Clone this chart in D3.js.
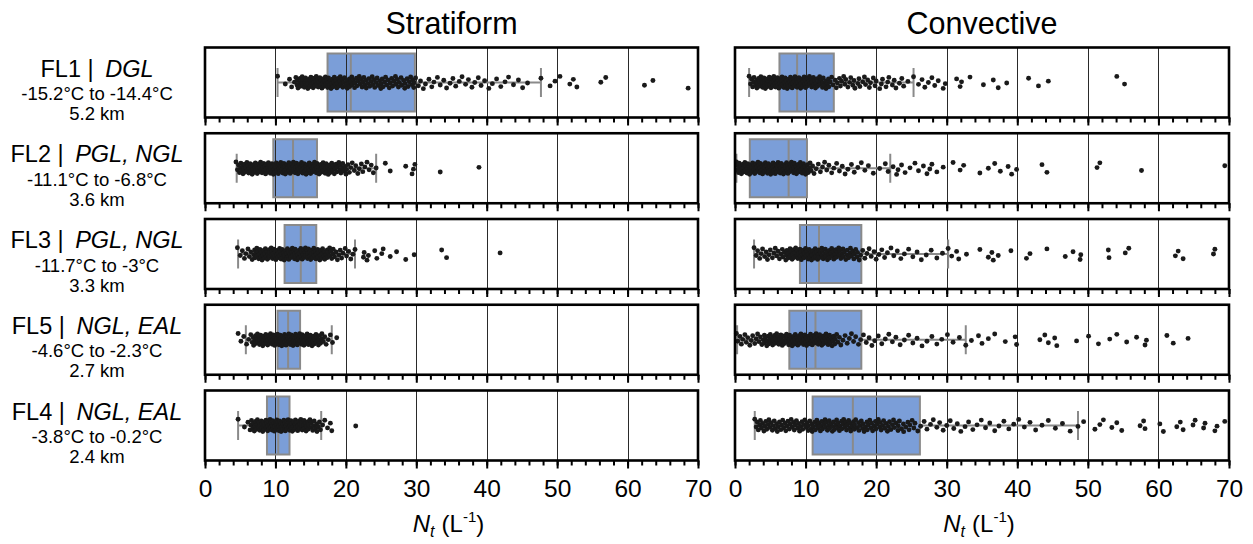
<!DOCTYPE html>
<html>
<head>
<meta charset="utf-8">
<script src="https://cdn.jsdelivr.net/npm/d3@7"></script>
<style>
  body { margin: 0; background: #fff; }
  svg { display: block; }
  text { font-family: "Liberation Sans", Arial, Helvetica, sans-serif; fill: #000; }
</style>
</head>
<body>
<svg id="chart" width="1253" height="544"></svg>
<script>
// ---- labels ----
const regimes = ["Stratiform", "Convective"];
const levels = ["FL1", "FL2", "FL3", "FL5", "FL4"];
const growthLayers = ["DGL", "PGL, NGL", "PGL, NGL", "NGL, EAL", "NGL, EAL"];
const tempRanges = ["-15.2°C to -14.4°C", "-11.1°C to -6.8°C", "-11.7°C to -3°C", "-4.6°C to -2.3°C", "-3.8°C to -0.2°C"];
const altitudes = ["5.2 km", "3.6 km", "3.3 km", "2.7 km", "2.4 km"];
const majorTicks = [0, 10, 20, 30, 40, 50, 60, 70];
const minorTicks = [0,2,4,6,8,10,12,14,16,18,20,22,24,26,28,30,32,34,36,38,40,42,44,46,48,50,52,54,56,58,60,62,64,66,68,70];

// ---- box statistics: [lower whisker, Q1, median, Q3, upper whisker] ----
const stratBoxes = [
  [10.3, 17.4, 20.7, 29.8, 47.7],
  [4.5, 9.7, 12.5, 15.9, 24.3],
  [4.7, 11.3, 13.6, 15.8, 21.3],
  [5.8, 10.3, 11.8, 13.5, 18.0],
  [4.7, 8.8, 10.4, 12.0, 16.5]
];
const convBoxes = [
  [2.0, 6.3, 8.8, 14.0, 25.3],
  [0.2, 2.1, 7.6, 10.2, 22.0],
  [2.7, 9.2, 11.9, 17.9, 30.2],
  [0.3, 7.7, 11.4, 17.9, 32.7],
  [2.8, 11.0, 16.7, 26.2, 48.6]
];

// ---- individual Nt samples (L^-1) ----
const stratFL1 = [10.3,11.4,12.0,12.3,12.7,12.9,13.1,13.2,13.4,13.5,13.7,13.8,13.9,14.1,14.2,14.4,14.5,14.6,14.8,14.9,15.0,15.1,15.3,15.4,15.5,15.7,15.8,15.9,16.0,16.2,16.3,16.5,16.6,16.7,16.9,17.0,17.1,17.3,17.4,17.5,17.7,17.8,17.9,18.1,18.2,18.3,18.5,18.6,18.8,18.9,19.0,19.2,19.3,19.5,19.7,19.8,20.0,20.2,20.4,20.5,20.7,20.9,21.1,21.3,21.5,21.6,21.9,22.1,22.3,22.4,22.7,22.9,23.1,23.4,23.6,23.8,24.1,24.3,24.6,24.8,25.0,25.3,25.5,25.8,26.0,26.3,26.5,26.8,27.1,27.3,27.6,27.9,28.2,28.4,28.7,29.0,29.2,29.5,29.7,29.9,30.3,30.6,31.0,31.3,31.8,32.2,32.5,33.0,33.4,33.9,34.3,34.8,35.2,35.6,36.1,36.5,37.0,37.4,37.9,38.3,38.8,39.2,39.7,40.3,40.8,41.4,42.0,42.6,43.1,43.8,44.5,45.1,45.8,47.7,49.0,49.7,50.4,51.8,52.3,52.8,56.2,56.9,62.4,63.6,68.6,
  13.06,13.57,13.84,14.27,14.63,15.04,15.36,15.62,16.07,16.44,16.83,17.16,17.54,17.97,18.36,18.72,19.14,19.56,
  20.14,20.56,20.84,21.24,21.76,22.04,22.56,22.84,23.26,23.74,24.06,24.44,24.96,25.16,25.64,26.16,26.64,27.04,27.46,27.84,28.36,28.84,29.36,29.64];
const stratFL2 = [4.4,4.6,4.9,5.1,5.2,5.4,5.5,5.7,5.8,6.0,6.1,6.2,6.4,6.5,6.7,6.8,6.9,7.1,7.2,7.3,7.5,7.6,7.7,7.9,8.0,8.1,8.2,8.4,8.5,8.6,8.7,8.9,9.0,9.1,9.2,9.3,9.5,9.6,9.7,9.8,9.9,10.0,10.2,10.3,10.4,10.5,10.6,10.7,10.9,11.0,11.1,11.2,11.3,11.4,11.6,11.7,11.8,11.9,12.0,12.1,12.3,12.4,12.5,12.6,12.7,12.8,13.0,13.1,13.2,13.3,13.4,13.6,13.7,13.8,13.9,14.0,14.2,14.3,14.4,14.5,14.7,14.8,14.9,15.0,15.2,15.3,15.4,15.6,15.7,15.8,15.9,16.1,16.2,16.4,16.5,16.6,16.8,16.9,17.1,17.2,17.4,17.5,17.7,17.8,18.0,18.1,18.3,18.5,18.6,18.8,19.0,19.2,19.3,19.5,19.7,19.9,20.1,20.3,20.5,20.7,20.9,21.2,21.4,21.7,21.9,22.2,22.4,22.7,23.0,23.3,23.6,23.9,24.3,25.6,26.3,28.5,29.4,29.6,29.8,33.4,38.9,
  4.75,5.05,5.35,5.62,5.95,6.27,6.55,6.83,7.15,7.42,7.78,8.06,8.33,8.62,8.95,9.27,9.55,9.84,10.13,10.47,10.76,11.05,11.34,11.67,11.95,12.24,12.55,12.87,13.15,13.46,13.74,14.06,14.35,14.66,14.95,15.26,15.55,15.87,16.14,16.46,16.77,17.06,17.36,17.66,17.96,18.36,18.72,19.14,19.56,20.02];
const stratFL3 = [4.6,5.0,5.3,5.6,5.8,6.1,6.3,6.5,6.7,6.9,7.1,7.2,7.4,7.5,7.7,7.8,8.0,8.1,8.3,8.4,8.5,8.7,8.8,9.0,9.1,9.2,9.4,9.5,9.6,9.8,9.9,10.0,10.2,10.3,10.4,10.6,10.7,10.8,10.9,11.1,11.2,11.3,11.4,11.6,11.7,11.8,11.9,12.1,12.2,12.3,12.4,12.6,12.7,12.8,12.9,13.1,13.2,13.3,13.4,13.6,13.7,13.8,14.0,14.1,14.2,14.3,14.5,14.6,14.7,14.9,15.0,15.1,15.3,15.4,15.5,15.7,15.8,16.0,16.1,16.3,16.4,16.6,16.7,16.9,17.0,17.2,17.4,17.5,17.7,17.9,18.0,18.2,18.4,18.6,18.8,19.0,19.2,19.4,19.6,19.9,20.1,20.4,20.7,21.0,21.3,22.5,22.6,23.0,23.2,24.1,24.4,25.1,25.3,26.3,27.2,28.5,29.7,33.6,34.3,41.9,
  7.04,7.36,7.63,7.96,8.24,8.57,8.86,9.14,9.47,9.73,10.06,10.34,10.65,10.96,11.24,11.57,11.84,12.16,12.45,12.74,13.06,13.35,13.66,13.94,14.26,14.55,14.84,15.16,15.45,15.76,16.04,16.36,16.65,16.94,17.36,17.74,18.16];
const stratFL5 = [4.7,5.1,5.5,5.9,6.2,6.5,6.7,6.9,7.1,7.2,7.4,7.5,7.7,7.8,7.9,8.1,8.2,8.3,8.4,8.6,8.7,8.8,8.9,9.0,9.2,9.3,9.4,9.5,9.6,9.7,9.8,9.9,10.0,10.1,10.2,10.3,10.4,10.5,10.6,10.7,10.8,10.9,11.0,11.1,11.2,11.3,11.4,11.5,11.6,11.7,11.8,11.9,12.0,12.1,12.2,12.3,12.4,12.5,12.6,12.7,12.8,12.9,13.0,13.1,13.2,13.3,13.4,13.5,13.6,13.7,13.8,13.9,14.0,14.1,14.2,14.4,14.5,14.6,14.7,14.8,15.0,15.1,15.2,15.4,15.5,15.6,15.8,15.9,16.1,16.2,16.4,16.6,16.8,17.0,17.2,17.5,17.8,18.1,18.7,
  6.84,7.16,7.45,7.73,8.05,8.36,8.63,8.94,9.26,9.55,9.84,10.16,10.45,10.74,11.06,11.35,11.64,11.96,12.25,12.54,12.86,13.15,13.44,13.76,14.05,14.34,14.66,14.95,15.34,15.76,16.14,16.55];
const stratFL4 = [4.7,5.6,6.1,6.4,6.6,6.8,7.0,7.1,7.3,7.4,7.6,7.7,7.8,8.0,8.1,8.2,8.3,8.4,8.5,8.7,8.8,8.9,9.0,9.1,9.2,9.3,9.4,9.5,9.6,9.7,9.8,9.9,10.0,10.1,10.2,10.3,10.4,10.5,10.6,10.7,10.8,10.9,11.0,11.1,11.2,11.3,11.4,11.5,11.6,11.7,11.8,11.9,12.0,12.1,12.2,12.3,12.4,12.5,12.7,12.8,12.9,13.0,13.2,13.3,13.4,13.6,13.7,13.8,14.0,14.1,14.3,14.4,14.6,14.7,14.9,15.1,15.3,15.5,15.7,15.9,16.1,16.4,16.7,17.0,17.4,17.8,18.0,21.4,
  6.54,6.86,7.15,7.44,7.76,8.05,8.34,8.66,8.95,9.24,9.56,9.85,10.14,10.46,10.75,11.04,11.36,11.65,11.94,12.26,12.55,12.84,13.16,13.45,13.74,14.06,14.35,14.64,15.06,15.44,15.86,16.24];
const convFL1 = [2.0,2.2,2.5,2.7,2.9,3.1,3.2,3.4,3.5,3.7,3.8,3.9,4.1,4.2,4.3,4.5,4.6,4.7,4.9,5.0,5.1,5.2,5.4,5.5,5.6,5.7,5.9,6.0,6.1,6.2,6.4,6.5,6.6,6.7,6.9,7.0,7.1,7.2,7.4,7.5,7.6,7.8,7.9,8.0,8.1,8.3,8.4,8.5,8.7,8.8,8.9,9.1,9.2,9.3,9.5,9.6,9.8,9.9,10.0,10.2,10.3,10.5,10.6,10.8,10.9,11.1,11.2,11.4,11.5,11.7,11.9,12.0,12.2,12.4,12.5,12.7,12.9,13.1,13.3,13.5,13.7,13.9,14.2,14.5,14.8,15.1,15.4,15.7,16.0,16.4,16.7,17.0,17.4,17.7,18.1,18.5,18.8,19.2,19.6,20.0,20.5,20.9,21.4,21.8,22.3,22.8,23.3,23.9,24.5,25.3,26.0,26.5,26.9,27.4,27.9,28.3,28.8,29.5,29.8,31.4,31.9,32.1,33.3,35.2,36.6,37.3,38.5,41.6,43.0,44.4,54.1,55.2,
  2.36,2.64,3.06,3.34,3.66,3.94,4.26,4.54,4.86,5.14,5.46,5.74,6.06,6.34,6.66,6.94,7.26,7.54,7.86,8.14,8.46,8.74,9.06,9.34,9.66,9.94,10.26,10.54,10.86,11.26,11.64,12.06,12.44,12.86,13.24,
  14.36,14.94,15.56,16.24,16.86,17.56,18.34,19.04,19.84,20.74,21.64,22.56,23.64];
const convFL2 = [0.2,0.3,0.5,0.6,0.8,0.9,1.0,1.2,1.3,1.4,1.5,1.7,1.8,1.9,2.0,2.2,2.3,2.4,2.5,2.7,2.8,2.9,3.0,3.1,3.3,3.4,3.5,3.6,3.7,3.9,4.0,4.1,4.2,4.3,4.5,4.6,4.7,4.8,4.9,5.1,5.2,5.3,5.4,5.5,5.7,5.8,5.9,6.0,6.1,6.3,6.4,6.5,6.6,6.8,6.9,7.0,7.1,7.3,7.4,7.5,7.6,7.8,7.9,8.0,8.2,8.3,8.4,8.6,8.7,8.8,9.0,9.1,9.3,9.4,9.6,9.7,9.9,10.0,10.2,10.4,10.6,10.8,11.0,11.2,11.5,11.8,12.1,12.4,12.7,13.0,13.3,13.7,14.0,14.4,14.8,15.2,15.6,16.0,16.5,16.9,17.4,17.9,18.4,18.9,19.6,20.5,21.3,21.7,22.4,22.9,23.1,23.6,24.1,24.8,25.5,26.0,26.7,27.2,27.6,27.9,28.6,29.5,30.9,31.9,32.4,34.7,35.9,36.8,37.6,38.7,39.2,39.9,43.5,44.2,51.3,51.7,57.6,69.4,
  0.26,0.54,0.86,1.14,1.46,1.74,2.06,2.34,2.66,2.94,3.26,3.54,3.86,4.14,4.46,4.74,5.06,5.34,5.66,5.94,6.26,6.54,6.86,7.14,7.46,7.74,8.06,8.34,8.66,8.94,9.26,9.54,9.86,10.26,10.64];
const convFL3 = [2.7,3.0,3.2,3.5,3.7,3.9,4.2,4.4,4.6,4.8,5.0,5.3,5.5,5.7,5.9,6.1,6.3,6.5,6.7,6.8,7.0,7.2,7.3,7.5,7.6,7.8,7.9,8.1,8.2,8.3,8.5,8.6,8.8,8.9,9.0,9.2,9.3,9.4,9.6,9.7,9.8,10.0,10.1,10.2,10.4,10.5,10.6,10.8,10.9,11.0,11.2,11.3,11.4,11.6,11.7,11.8,12.0,12.1,12.3,12.4,12.5,12.7,12.8,13.0,13.1,13.3,13.4,13.6,13.7,13.9,14.0,14.2,14.3,14.5,14.7,14.8,15.0,15.2,15.3,15.5,15.7,15.9,16.1,16.3,16.5,16.7,16.9,17.1,17.3,17.6,17.8,18.1,18.4,18.7,19.0,19.3,19.7,20.0,20.4,20.8,21.2,21.6,22.1,22.5,23.0,23.5,24.0,24.6,25.2,25.8,26.4,27.1,27.8,28.6,29.4,30.2,30.7,31.4,31.7,32.8,34.7,35.9,36.4,36.6,37.3,39.1,41.3,41.8,44.2,46.8,47.9,48.9,49.0,52.9,53.0,55.3,55.8,62.4,62.8,63.5,67.8,68.0,
  7.36,7.84,8.36,8.84,9.36,9.84,10.36,10.84,11.36,11.84,12.36,12.84,13.36,13.84,14.36,14.84,15.36,15.84,16.36,16.84,17.36];
const convFL5 = [0.2,0.4,0.7,0.9,1.1,1.4,1.6,1.8,2.1,2.3,2.5,2.8,3.0,3.2,3.4,3.6,3.8,4.0,4.2,4.3,4.5,4.7,4.8,5.0,5.1,5.3,5.4,5.6,5.7,5.9,6.0,6.2,6.3,6.5,6.6,6.7,6.9,7.0,7.2,7.3,7.4,7.6,7.7,7.9,8.0,8.1,8.3,8.4,8.5,8.7,8.8,8.9,9.1,9.2,9.3,9.5,9.6,9.7,9.9,10.0,10.1,10.3,10.4,10.5,10.7,10.8,10.9,11.1,11.2,11.3,11.5,11.6,11.8,11.9,12.0,12.2,12.3,12.5,12.6,12.8,12.9,13.1,13.2,13.4,13.5,13.7,13.9,14.0,14.2,14.4,14.6,14.8,15.0,15.3,15.6,15.9,16.2,16.5,16.8,17.1,17.5,17.8,18.2,18.6,19.0,19.4,19.8,20.3,20.8,21.3,21.8,22.3,22.8,23.4,24.0,24.6,25.2,25.8,26.5,27.2,27.9,28.6,29.3,30.1,30.9,31.8,32.7,33.5,34.5,35.0,35.9,36.8,38.3,39.7,39.9,43.2,43.9,44.4,45.3,45.6,48.4,50.1,51.5,53.1,54.1,55.5,56.9,58.1,58.3,61.2,62.1,64.2,
  4.16,4.54,4.96,5.34,5.76,6.14,6.56,6.94,7.36,7.74,8.16,8.54,8.96,9.34,9.76,10.14,10.56,10.94,11.36,11.74,12.16,12.54,12.96,13.34,13.76,14.14];
const convFL4 = [2.8,3.0,3.3,3.5,3.6,3.9,4.1,4.2,4.5,4.7,4.8,5.1,5.3,5.4,5.7,5.9,6.0,6.3,6.5,6.6,6.9,7.1,7.2,7.5,7.7,7.8,8.1,8.3,8.4,8.7,8.9,9.0,9.3,9.5,9.6,9.9,10.1,10.2,10.4,10.6,10.8,10.9,11.1,11.3,11.4,11.6,11.8,11.9,12.1,12.3,12.4,12.6,12.8,12.9,13.1,13.3,13.4,13.6,13.8,13.9,14.1,14.3,14.4,14.6,14.8,14.9,15.1,15.3,15.4,15.6,15.8,15.9,16.1,16.3,16.4,16.6,16.8,16.9,17.1,17.3,17.5,17.7,17.9,18.1,18.3,18.5,18.7,18.9,19.1,19.3,19.5,19.7,19.9,20.1,20.3,20.5,20.7,20.9,21.2,21.4,21.6,21.9,22.1,22.3,22.6,22.8,23.1,23.3,23.6,23.9,24.2,24.5,24.8,25.1,25.5,25.9,26.3,26.8,27.2,27.7,28.1,28.6,29.0,29.5,30.0,30.5,31.0,31.5,32.0,32.6,33.1,33.7,34.3,34.9,35.5,36.1,36.8,37.4,38.1,38.8,39.5,40.2,41.0,41.8,42.6,43.5,44.4,45.4,46.4,47.5,48.6,49.4,51.0,51.7,52.2,53.4,54.1,54.8,57.4,57.9,58.1,60.2,60.7,62.6,63.1,63.5,64.9,65.2,66.4,66.6,68.0,68.3,69.4,
  3.16,3.74,4.36,4.94,5.56,6.14,6.76,7.34,7.96,8.54,9.16,9.74,10.36,10.94,11.56,12.14,12.76,13.34,13.96,14.54,15.16,15.74,16.36,16.94,17.56,18.14,18.76,19.34,19.96,20.54,21.06,21.74,22.46,23.14,23.86,24.66,25.34];

const stratPoints = [stratFL1, stratFL2, stratFL3, stratFL5, stratFL4];
const convPoints = [convFL1, convFL2, convFL3, convFL5, convFL4];

// ---- layout ----
const svg = d3.select("#chart");
const colLeft = [205, 735];
const colRight = [698, 1229];
const rowTop0 = 47.5, rowStep = 85.75, rowH = 70;
const boxHalf = 29, capHalf = 14.5, jitterAmp = 6.2, dotR = 2.45;
const boxFill = "#7b9ed8", boxStroke = "#8a8a8a";

const panels = [
  { title: regimes[0], boxes: stratBoxes, points: stratPoints },
  { title: regimes[1], boxes: convBoxes, points: convPoints }
];

panels.forEach((p, c) => {
  const x = d3.scaleLinear().domain([0, 70]).range([colLeft[c], colRight[c]]);
  const midX = (colLeft[c] + colRight[c]) / 2;

  svg.append("text")
    .attr("x", midX).attr("y", 34)
    .attr("text-anchor", "middle")
    .style("font-size", "30.5px")
    .text(p.title);

  levels.forEach((lv, r) => {
    const top = rowTop0 + r * rowStep;
    const cy = top + rowH / 2;
    const g = svg.append("g");
    const [lo, q1, med, q3, hi] = p.boxes[r];

    // panel background
    g.append("rect").attr("x", x(0)).attr("y", top)
      .attr("width", x(70) - x(0)).attr("height", rowH).attr("fill", "#fff");

    // box fill
    g.append("rect")
      .attr("x", x(q1)).attr("y", cy - boxHalf)
      .attr("width", x(q3) - x(q1)).attr("height", 2 * boxHalf)
      .attr("fill", boxFill);

    // vertical gridlines
    g.selectAll("line.grid").data(majorTicks.slice(1, -1)).join("line")
      .attr("class", "grid")
      .attr("x1", d => Math.round(x(d)) + 0.5).attr("x2", d => Math.round(x(d)) + 0.5)
      .attr("y1", top).attr("y2", top + rowH)
      .attr("stroke", "#2a2a2a").attr("stroke-width", 1);

    // whiskers and caps
    const wk = g.append("g").attr("stroke", boxStroke).attr("stroke-width", 2).attr("fill", "none");
    wk.append("line").attr("x1", x(lo)).attr("x2", x(q1)).attr("y1", cy).attr("y2", cy);
    wk.append("line").attr("x1", x(q3)).attr("x2", x(hi)).attr("y1", cy).attr("y2", cy);
    wk.append("line").attr("x1", x(lo)).attr("x2", x(lo)).attr("y1", cy - capHalf).attr("y2", cy + capHalf);
    wk.append("line").attr("x1", x(hi)).attr("x2", x(hi)).attr("y1", cy - capHalf).attr("y2", cy + capHalf);
    wk.append("rect").attr("x", x(q1)).attr("y", cy - boxHalf)
      .attr("width", x(q3) - x(q1)).attr("height", 2 * boxHalf);
    wk.append("line").attr("x1", x(med)).attr("x2", x(med))
      .attr("y1", cy - boxHalf).attr("y2", cy + boxHalf);

    // jittered samples, sorted, spread vertically by sample order
    const samples = d3.sort(p.points[r]);
    g.selectAll("circle").data(samples).join("circle")
      .attr("cx", d => x(d))
      .attr("cy", (d, i) => cy + (((i * 0.6180339887) % 1) * 2 - 1) * jitterAmp)
      .attr("r", dotR)
      .attr("fill", "#1a1a1a");

    // frame
    g.append("rect").attr("x", x(0)).attr("y", top)
      .attr("width", x(70) - x(0)).attr("height", rowH)
      .attr("fill", "none").attr("stroke", "#000").attr("stroke-width", 2.6);

    // ticks
    const minorAxis = d3.axisBottom(x).tickValues(minorTicks).tickSize(5).tickFormat("");
    const majorAxis = d3.axisBottom(x).tickValues(majorTicks).tickSize(8).tickPadding(11)
      .tickFormat(r === levels.length - 1 ? d3.format("d") : "");
    const ag1 = g.append("g").attr("transform", `translate(0,${top + rowH})`).call(minorAxis);
    const ag2 = g.append("g").attr("transform", `translate(0,${top + rowH})`).call(majorAxis);
    [ag1, ag2].forEach(a => {
      a.select(".domain").remove();
      a.selectAll(".tick line").attr("stroke", "#000").attr("stroke-width", 2);
      a.selectAll(".tick text")
        .style("font-size", "24.5px")
        .style("font-family", "'Liberation Sans', Arial, sans-serif")
        .attr("fill", "#000");
    });

    // row labels on the left column
    if (c === 0) {
      const lx = 97;
      const t1 = svg.append("text").attr("x", lx).attr("y", cy - 6)
        .attr("text-anchor", "middle").style("font-size", "23.5px");
      t1.append("tspan").text(lv + " | ");
      t1.append("tspan").attr("dx", 5).style("font-style", "italic").text(growthLayers[r]);
      svg.append("text").attr("x", lx).attr("y", cy + 17.5)
        .attr("text-anchor", "middle").style("font-size", "18.5px").text(tempRanges[r]);
      svg.append("text").attr("x", lx).attr("y", cy + 37.5)
        .attr("text-anchor", "middle").style("font-size", "18.5px").text(altitudes[r]);
    }
  });

  // x-axis title: N_t (L^-1)
  const xt = svg.append("text").attr("x", midX - 3).attr("y", 532)
    .attr("text-anchor", "middle").style("font-size", "24px");
  xt.append("tspan").style("font-style", "italic").text("N");
  xt.append("tspan").style("font-style", "italic").style("font-size", "16px").attr("dy", 5).text("t");
  xt.append("tspan").attr("dy", -5).attr("dx", 7).text("(L");
  xt.append("tspan").style("font-size", "15px").attr("dy", -10).text("-1");
  xt.append("tspan").attr("dy", 10).text(")");
});
</script>
</body>
</html>
